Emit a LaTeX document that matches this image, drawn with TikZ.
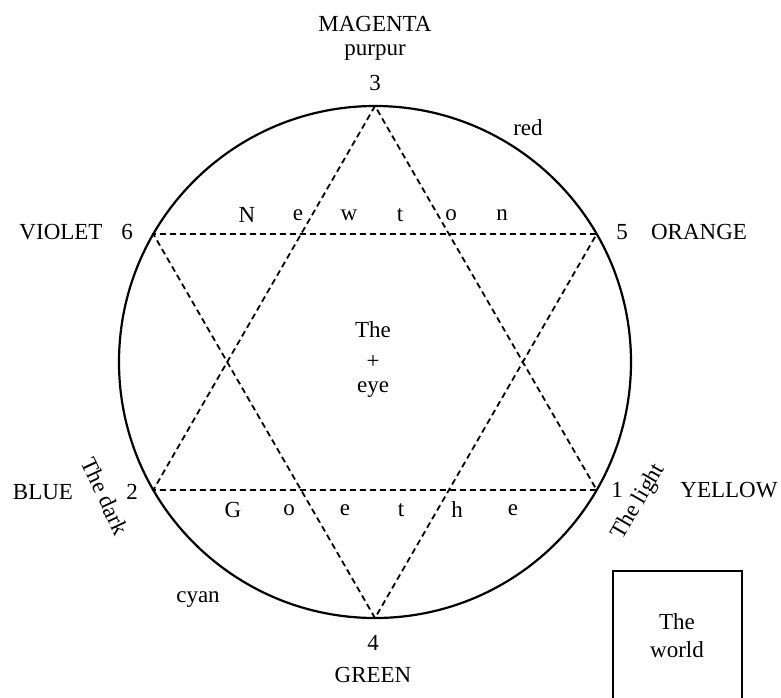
\documentclass[tikz,border=0pt]{standalone}
\usepackage{fontspec}
\setmainfont{Liberation Serif}
\begin{document}
\begin{tikzpicture}[x=1pt,y=-1pt,every node/.style={inner sep=0pt,anchor=center,font=\fontsize{23}{28}\selectfont}]
		\useasboundingbox (0,0) rectangle (781,697);
		\coordinate (c) at (375,362);
		\coordinate (p1) at (596.7,490);
		\coordinate (p2) at (153.3,490);
		\coordinate (p3) at (375,106);
		\coordinate (p4) at (375,618);
		\coordinate (p5) at (596.7,234);
		\coordinate (p6) at (153.3,234);
		
		\draw[line width=2.2pt] (c) circle[radius=256pt];
		
		\begin{scope}[line width=1.8pt,dash pattern=on 6pt off 4pt]
			\draw (p3) -- (p2) -- (p1) -- cycle;
			\draw (p4) -- (p6) -- (p5) -- cycle;
		\end{scope}
		
		\node (magenta) at (375,24) {MAGENTA};
		\node (purpur) at (375,53) {purpur};
		\node (n3) at (375,83) {3};
		\node (n4) at (373,643) {4};
		\node (green) at (373,675) {GREEN};
		\node (n6) at (127,232) {6};
		\node (violet) at (61,232) {VIOLET};
		\node (n5) at (622,232) {5};
		\node (orange) at (699,232) {ORANGE};
		\node (n2) at (132,492) {2};
		\node (blue) at (43,492) {BLUE};
		\node (n1) at (617,490) {1};
		\node (yellow) at (729,490) {YELLOW};
		
		\node (red) at (528,128) {red};
		\node (cyan) at (198,600) {cyan};
		\node[rotate=-65] (dark) at (105,496) {The dark};
		\node[rotate=60] (light) at (639,502) {The light};
		
		\node (the) at (373,330) {The};
		\node (plus) at (373,362) {+};
		\node (eye) at (373,390) {eye};
		
		\foreach \ch [count=\i] in {N,e,w,t,o,n}
			\node (newton\i) at ({196+51*\i},215) {\ch};
		\foreach \ch [count=\i] in {G,o,e,t,h,e}
			\node (goethe\i) at ({177+56*\i},510) {\ch};
		
		\coordinate (boxtl) at (613,571);
		\coordinate (boxbr) at (742,712);
		\draw[line width=2pt] (boxtl) rectangle (boxbr);
		\node (worldthe) at (677,622) {The};
		\node (world) at (677,650) {world};
	\end{tikzpicture}
\end{document}
